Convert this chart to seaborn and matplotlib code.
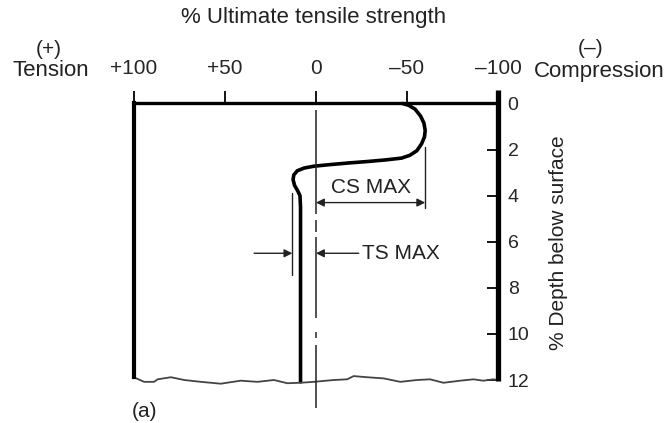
import numpy as np
import pandas as pd
import matplotlib
matplotlib.use("Agg")
import matplotlib.pyplot as plt
import seaborn as sns

# region Datos
# perfil de tension residual: % resistencia (x) frente a % profundidad (y)
stress = [-47.5, -51.0, -54.5, -57.5, -59.3, -60.0, -59.6, -58.0, -55.4, -51.5, -47.0,
          -38.0, -28.0, -18.0, -8.0, 1.0, 6.5, 10.3, 12.2, 12.6, 11.8, 10.0, 8.8, 8.5, 8.5]
depth = [0.0, 0.08, 0.25, 0.55, 0.85, 1.17, 1.45, 1.75, 2.05, 2.25, 2.37,
         2.45, 2.52, 2.58, 2.65, 2.72, 2.8, 2.92, 3.1, 3.3, 3.55, 3.8, 4.0, 4.5, 12.08]

# linea ondulada de corte en el fondo
wave_x = [100.7, 94.4, 89.0, 87.0, 79.7, 72.4, 63.3, 52.3, 41.4, 32.2, 23.1, 15.8, 8.5, 1.2,
          -9.8, -17.1, -20.7, -28.1, -37.2, -46.3, -55.5, -62.7, -70.0, -79.2, -86.5,
          -91.9, -97.4, -100.0]
wave_y = [11.86, 12.08, 12.08, 11.97, 11.88, 12.0, 12.08, 12.16, 12.03, 12.08, 12.0, 12.14,
          12.12, 12.08, 12.0, 11.97, 11.83, 11.88, 11.93, 12.08, 12.0, 11.97, 12.12, 12.03,
          11.97, 12.03, 11.97, 12.0]

x_ticks = [100, 50, 0, -50, -100]
x_labels = ["+100", "+50", "0", "\u201350", "\u2013100"]
y_ticks = [0, 2, 4, 6, 8, 10, 12]

# eje central (tramos de la linea de trazo y punto)
center_start = [0.3, 5.07, 5.8, 9.92, 10.48]
center_end = [4.81, 5.59, 9.32, 10.18, 13.2]

cs_max = -60
ts_max = 13
# endregion

# region Estilo
sns.set_theme(style="white")
plt.rcParams["font.family"] = ["Liberation Sans", "DejaVu Sans"]
plt.rcParams["text.color"] = "#222222"
# endregion

W, H = 666, 423
fig = plt.figure(figsize=(W / 100, H / 100), dpi=100)
ax = fig.add_axes([134 / W, 1 - 380 / H, (498 - 134) / W, (380 - 103.5) / H])
ax.set_xlim(100, -100)
ax.set_ylim(12, 0)

df = pd.DataFrame({"stress": stress, "depth": depth})
sns.lineplot(data=df, x="stress", y="depth", sort=False, estimator=None,
             color="black", lw=2.6, ax=ax, clip_on=False)

wave = pd.DataFrame({"x": wave_x, "y": wave_y})
sns.lineplot(data=wave, x="x", y="y", sort=False, estimator=None,
             color="#444444", lw=1.3, ax=ax, clip_on=False)

# linea central
ax.vlines([0] * len(center_start), center_start, center_end, color="#222222",
          lw=1.1, clip_on=False)

# bordes
for s in ["bottom", "right"]:
    ax.spines[s].set_visible(False)
ax.spines["top"].set_linewidth(2.4)
ax.spines["top"].set_color("black")
ax.spines["left"].set_linewidth(3.0)
ax.spines["left"].set_color("black")
ax.spines["left"].set_bounds(0, 11.86)
ax.plot([-100, -100], [-0.58, 12.05], color="black", lw=3.8,
        solid_capstyle="butt", clip_on=False)

ax.xaxis.tick_top()
ax.set_xticks(x_ticks)
ax.set_xticklabels(x_labels, fontsize=15)
ax.tick_params(axis="x", direction="out", length=9, width=1.3, pad=9,
               color="black", top=True, bottom=False)
ax.yaxis.tick_right()
ax.set_yticks(y_ticks)
ax.set_yticklabels([str(v) for v in y_ticks], fontsize=14)
ax.tick_params(axis="y", direction="in", length=8, width=1.3, pad=7,
               color="black", right=True, left=False)
ax.set_xlabel("")
ax.set_ylabel("")

# CS MAX
ax.plot([cs_max, cs_max], [1.9, 4.55], color="#222222", lw=1.0)
ax.annotate("", xy=(cs_max, 4.3), xytext=(0, 4.3),
            arrowprops=dict(arrowstyle="<|-|>", color="#222222", lw=1.0,
                            mutation_scale=12, shrinkA=0, shrinkB=0))
ax.text(-30, 3.63, "CS MAX", fontsize=15, ha="center", va="center")

# TS MAX
ax.plot([ts_max, ts_max], [3.9, 7.45], color="#222222", lw=1.0)
ax.annotate("", xy=(ts_max, 6.5), xytext=(34, 6.5),
            arrowprops=dict(arrowstyle="-|>", color="#222222", lw=1.0,
                            mutation_scale=12, shrinkA=0, shrinkB=0))
ax.annotate("", xy=(0, 6.5), xytext=(-23.5, 6.5),
            arrowprops=dict(arrowstyle="-|>", color="#222222", lw=1.0,
                            mutation_scale=12, shrinkA=0, shrinkB=0))
ax.text(-25, 6.5, "TS MAX", fontsize=15, ha="left", va="center")

# textos
fig.text(314 / W, 1 - 18 / H, "% Ultimate tensile strength", fontsize=16,
         ha="center", va="center")
fig.text(49 / W, 1 - 49 / H, "(+)", fontsize=15, ha="center", va="center")
fig.text(51 / W, 1 - 71 / H, "Tension", fontsize=16, ha="center", va="center")
fig.text(591 / W, 1 - 48 / H, "(\u2013)", fontsize=15, ha="center", va="center")
fig.text(599 / W, 1 - 71 / H, "Compression", fontsize=16, ha="center", va="center")
fig.text(558 / W, 1 - 243 / H, "% Depth below surface", fontsize=15,
         ha="center", va="center", rotation=90)
fig.text(132 / W, 1 - 411 / H, "(a)", fontsize=15, ha="left", va="center")

fig.savefig("out.png", dpi=100)
